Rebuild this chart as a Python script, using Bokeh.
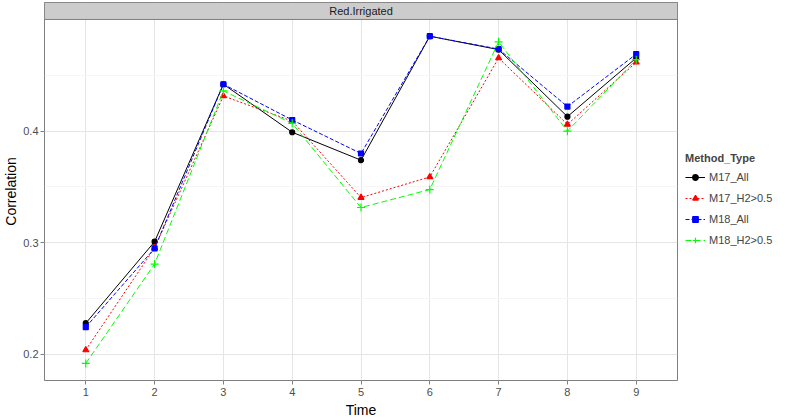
from bokeh.plotting import figure
from bokeh.models import Range1d, FixedTicker, Legend, LegendItem, ColumnDataSource
from bokeh.core.properties import value
from bokeh.embed import file_html
from bokeh.resources import INLINE

# ---- data ----
time = [1, 2, 3, 4, 5, 6, 7, 8, 9]
m17_all = [0.228, 0.301, 0.442, 0.399, 0.374, 0.485, 0.473, 0.413, 0.4655]
m17_h2 = [0.204, 0.2955, 0.4315, 0.409, 0.3405, 0.359, 0.4655, 0.406, 0.4617]
m18_all = [0.2245, 0.295, 0.442, 0.410, 0.380, 0.485, 0.4735, 0.422, 0.469]
m18_h2 = [0.192, 0.281, 0.436, 0.407, 0.3316, 0.3477, 0.480, 0.400, 0.464]
series_names = ["M17_All", "M17_H2>0.5", "M18_All", "M18_H2>0.5"]
x_ticks = [1, 2, 3, 4, 5, 6, 7, 8, 9]
y_ticks = [0.2, 0.3, 0.4]
y_minor = [0.25, 0.35, 0.45]
panel_title = "Red.Irrigated"

# axis limits (ggplot-style expansion) and facet strip band
x_lo, x_hi = 0.4, 9.6
y_lo, y_hi = 0.1767, 0.5
strip_top = 0.5152

p = figure(frame_width=633, frame_height=378, output_backend="svg", toolbar_location=None,
           x_range=Range1d(x_lo, x_hi), y_range=Range1d(y_lo, strip_top),
           min_border_left=0, min_border_top=2, min_border_right=0,
           min_border_bottom=0)

p.background_fill_color = "white"
p.border_fill_color = "white"
p.outline_line_color = "#7f7f7f"
p.outline_line_width = 1

# grids
p.xgrid.ticker = FixedTicker(ticks=x_ticks)
p.ygrid.ticker = FixedTicker(ticks=y_ticks, minor_ticks=y_minor)
p.xgrid.grid_line_color = "#e5e5e5"
p.ygrid.grid_line_color = "#e5e5e5"
p.ygrid.minor_grid_line_color = "#f5f5f5"

# axes
for ax in (p.xaxis[0], p.yaxis[0]):
    ax.axis_line_color = None
    ax.major_tick_line_color = "#7f7f7f"
    ax.major_tick_out = 4
    ax.major_tick_in = 0
    ax.minor_tick_out = 0
    ax.minor_tick_in = 0
    ax.major_label_text_font = "Liberation Sans"
    ax.major_label_text_font_size = "11px"
    ax.major_label_text_color = "#4d4d4d"
    ax.axis_label_text_font = "Liberation Sans"
    ax.axis_label_text_font_size = "14px"
    ax.axis_label_text_font_style = "normal"
    ax.axis_label_text_color = "black"
p.xaxis.major_label_standoff = 3
p.xaxis.axis_label_standoff = 3
p.yaxis.major_label_standoff = 2
p.yaxis.axis_label_standoff = 1
p.xaxis.ticker = FixedTicker(ticks=x_ticks)
p.yaxis.ticker = FixedTicker(ticks=y_ticks)
p.xaxis.axis_label = "Time"
p.yaxis.axis_label = "Correlation"

# facet strip
p.quad(left=[x_lo], right=[x_hi], bottom=[y_hi], top=[strip_top],
       fill_color="#cccccc", line_color="#7f7f7f", line_width=1)
p.text(x=[(x_lo + x_hi) / 2], y=[(y_hi + strip_top) / 2], text=[panel_title],
       text_align="center", text_baseline="middle", text_font_size="11px",
       text_font=value("Liberation Sans"), text_color="#1a1a1a")

styles = [
    (m17_all, "black", "solid", "circle", 5),
    (m17_h2, "#ff0000", "2 2", "triangle", 6),
    (m18_all, "#0000ff", "4 2", "square", 5),
    (m18_h2, "#00ff00", "6 3", "cross", 8),
]

items = []
for name, (vals, col, dash, marker, size) in zip(series_names, styles):
    src = ColumnDataSource(dict(x=time, y=vals))
    ln = p.line("x", "y", source=src, line_color=col, line_dash=dash, line_width=1.0)
    sc = p.scatter("x", "y", source=src, marker=marker, size=size,
                   fill_color=col, line_color=col, line_width=1.2)
    items.append(LegendItem(label=name, renderers=[ln, sc]))

legend = Legend(items=items, title="Method_Type")
legend.title_text_font_style = "bold"
legend.title_text_font_size = "11px"
legend.title_text_font = "Liberation Sans"
legend.title_standoff = 6
legend.label_text_font = "Liberation Sans"
legend.label_text_font_size = "11px"
legend.glyph_width = 20
legend.glyph_height = 14
legend.spacing = 7
legend.padding = 4
legend.label_standoff = 4
legend.border_line_color = None
legend.background_fill_alpha = 0
legend.location = (8, 133)
legend.margin = 8
p.add_layout(legend, "right")

open("out.html", "w").write(file_html(p, INLINE))
